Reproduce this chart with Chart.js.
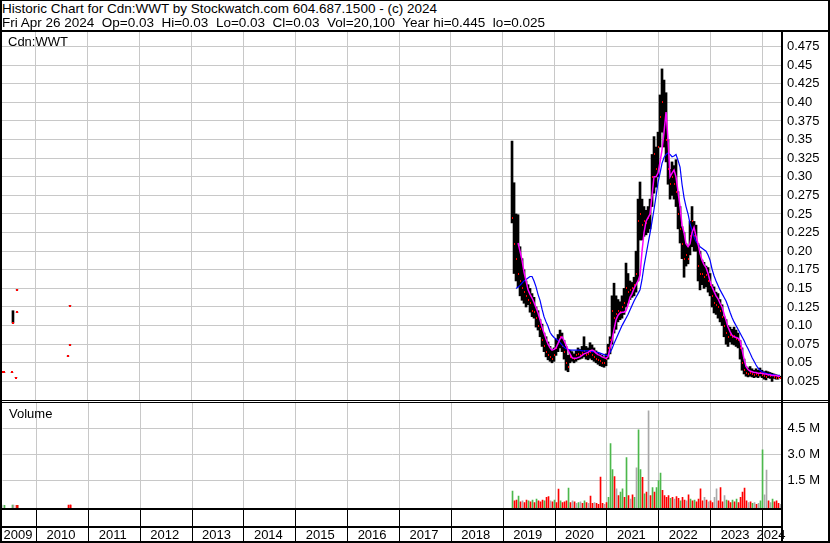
<!DOCTYPE html>
<html>
<head>
<meta charset="utf-8">
<script src="https://cdn.jsdelivr.net/npm/chart.js@4.4.1/dist/chart.umd.min.js"></script>
<style>
  body { margin: 0; background: #fff; }
  #wrap { position: relative; width: 830px; height: 543px; background: #fff; overflow: hidden;
          font-family: "Liberation Sans", Arial, sans-serif; font-size: 13px; color: #000; }
  canvas { position: absolute; left: 0; }
  .ln { position: absolute; background: #000; }
  .txt { position: absolute; white-space: pre; line-height: 14px; }
  .head { font-size: 13.5px; }
</style>
</head>
<body>
<div id="wrap">
  <canvas id="price" width="830" height="368" style="top:32px"></canvas>
  <canvas id="vol" width="830" height="140" style="top:403px"></canvas>

  <div class="txt head" style="left:2px;top:2px">Historic Chart for Cdn:WWT by Stockwatch.com 604.687.1500 - (c) 2024</div>
  <div class="txt head" style="left:2px;top:16px">Fri Apr 26 2024  Op=0.03  Hi=0.03  Lo=0.03  Cl=0.03  Vol=20,100  Year hi=0.445  lo=0.025</div>
  <div class="txt" style="left:8px;top:35px">Cdn:WWT</div>
  <div class="txt" style="left:9px;top:407px">Volume</div>

  <!-- frame -->
  <div class="ln" style="left:0;top:0;width:830px;height:1px"></div>
  <div class="ln" style="left:0;top:0;width:2px;height:543px"></div>
  <div class="ln" style="left:828px;top:0;width:2px;height:543px"></div>
  <div class="ln" style="left:0;top:541px;width:830px;height:2px"></div>
  <div class="ln" style="left:0;top:30px;width:830px;height:2px"></div>
  <div class="ln" style="left:781px;top:32px;width:2px;height:511px"></div>
  <div class="ln" style="left:0;top:400px;width:830px;height:1px"></div>
  <div class="ln" style="left:0;top:402px;width:830px;height:1px"></div>
  <div class="ln" style="left:0;top:508px;width:782px;height:2px"></div>
  <div class="ln" style="left:0;top:526px;width:782px;height:2px"></div>
</div>

<script>
// dates as decimal years (a few odd trades in 2009-2010, then 2-week steps from 2019)
const dates = [
  2009.344, 2009.383, 2009.537, 2009.556, 2009.614, 2009.634, 2009.635, 2010.617, 2010.655, 2010.656,
  2019.179, 2019.218, 2019.256, 2019.295, 2019.333, 2019.372, 2019.410, 2019.449, 2019.488, 2019.526,
  2019.565, 2019.603, 2019.642, 2019.680, 2019.719, 2019.758, 2019.796, 2019.835, 2019.873, 2019.912,
  2019.950, 2019.989, 2020.027, 2020.066, 2020.105, 2020.143, 2020.182, 2020.220, 2020.259, 2020.297,
  2020.336, 2020.375, 2020.413, 2020.452, 2020.490, 2020.529, 2020.567, 2020.606, 2020.645, 2020.683,
  2020.722, 2020.760, 2020.799, 2020.837, 2020.876, 2020.915, 2020.953, 2020.992, 2021.030, 2021.069,
  2021.107, 2021.146, 2021.185, 2021.223, 2021.262, 2021.300, 2021.339, 2021.377, 2021.416, 2021.454,
  2021.493, 2021.532, 2021.570, 2021.609, 2021.647, 2021.686, 2021.724, 2021.763, 2021.802, 2021.840,
  2021.879, 2021.917, 2021.956, 2021.994, 2022.033, 2022.071, 2022.110, 2022.149, 2022.187, 2022.226,
  2022.264, 2022.303, 2022.341, 2022.380, 2022.419, 2022.457, 2022.496, 2022.534, 2022.573, 2022.611,
  2022.650, 2022.689, 2022.727, 2022.766, 2022.804, 2022.843, 2022.881, 2022.920, 2022.959, 2022.997,
  2023.036, 2023.074, 2023.113, 2023.151, 2023.190, 2023.229, 2023.267, 2023.306, 2023.344, 2023.383,
  2023.421, 2023.460, 2023.499, 2023.537, 2023.576, 2023.614, 2023.653, 2023.691, 2023.730, 2023.769,
  2023.807, 2023.846, 2023.884, 2023.923, 2023.961, 2024.000, 2024.039, 2024.077, 2024.116, 2024.154,
  2024.193, 2024.231, 2024.270, 2024.308, 2024.347
];
const highs = [
  0.037, 0.037, 0.037, 0.12, 0.03, 0.148, 0.118, 0.059, 0.127, 0.074,
  0.348, 0.292, 0.25, 0.249, 0.206, 0.19, 0.175, 0.16, 0.155, 0.15,
  0.143, 0.138, 0.125, 0.12, 0.108, 0.102, 0.09, 0.085, 0.078, 0.072,
  0.068, 0.07, 0.082, 0.088, 0.094, 0.09, 0.08, 0.072, 0.06, 0.067,
  0.065, 0.062, 0.066, 0.07, 0.068, 0.072, 0.085, 0.072, 0.07, 0.077,
  0.074, 0.07, 0.066, 0.063, 0.062, 0.06, 0.058, 0.062, 0.075, 0.085,
  0.14, 0.157, 0.14, 0.135, 0.132, 0.14, 0.15, 0.184, 0.17, 0.16,
  0.158, 0.165, 0.2, 0.27, 0.293, 0.27, 0.26, 0.255, 0.26, 0.27,
  0.33, 0.354, 0.34, 0.36, 0.41, 0.445, 0.43, 0.413, 0.35, 0.31,
  0.32, 0.315, 0.323, 0.28, 0.26, 0.233, 0.225, 0.21, 0.206, 0.24,
  0.26, 0.24, 0.235, 0.21, 0.2, 0.188, 0.185, 0.18, 0.178, 0.17,
  0.155, 0.152, 0.145, 0.143, 0.135, 0.128, 0.112, 0.108, 0.1, 0.098,
  0.095, 0.098, 0.094, 0.09, 0.08, 0.07, 0.055, 0.045, 0.043, 0.045,
  0.042, 0.04, 0.042, 0.04, 0.043, 0.04, 0.038, 0.039, 0.038, 0.037,
  0.036, 0.035, 0.034, 0.032, 0.032
];
const lows = [
  0.037, 0.037, 0.037, 0.1035, 0.03, 0.148, 0.118, 0.059, 0.127, 0.074,
  0.238, 0.17, 0.16, 0.152, 0.14, 0.134, 0.13, 0.125, 0.128, 0.118,
  0.112, 0.11, 0.098, 0.094, 0.085, 0.072, 0.065, 0.058, 0.054, 0.052,
  0.05, 0.052, 0.06, 0.065, 0.07, 0.065, 0.055, 0.04, 0.038, 0.05,
  0.052, 0.05, 0.052, 0.054, 0.055, 0.056, 0.058, 0.055, 0.054, 0.056,
  0.054, 0.052, 0.05, 0.048, 0.046, 0.045, 0.044, 0.046, 0.055, 0.062,
  0.075, 0.09, 0.095, 0.105, 0.108, 0.11, 0.115, 0.125, 0.13, 0.135,
  0.138, 0.14, 0.145, 0.16, 0.215, 0.215, 0.22, 0.222, 0.225, 0.23,
  0.26, 0.278, 0.286, 0.3, 0.34, 0.36, 0.34, 0.32, 0.29, 0.27,
  0.275, 0.27, 0.26, 0.23, 0.211, 0.19, 0.165, 0.18, 0.183, 0.195,
  0.206, 0.2, 0.2, 0.16, 0.148, 0.155, 0.15, 0.152, 0.145, 0.14,
  0.125, 0.117, 0.115, 0.11, 0.105, 0.1, 0.085, 0.075, 0.072, 0.078,
  0.075, 0.074, 0.072, 0.07, 0.055, 0.04, 0.035, 0.032, 0.031, 0.032,
  0.031, 0.03, 0.031, 0.03, 0.032, 0.03, 0.028, 0.027, 0.03, 0.029,
  0.025, 0.029, 0.028, 0.028, 0.03
];
const closes = [
  0.037, 0.037, 0.037, 0.1035, 0.03, 0.148, 0.118, 0.059, 0.127, 0.074,
  0.245, 0.21, 0.19, 0.17, 0.16, 0.15, 0.145, 0.14, 0.135, 0.13,
  0.12, 0.118, 0.11, 0.1, 0.095, 0.08, 0.072, 0.065, 0.06, 0.058,
  0.055, 0.06, 0.07, 0.078, 0.085, 0.072, 0.065, 0.05, 0.045, 0.058,
  0.056, 0.055, 0.06, 0.062, 0.06, 0.063, 0.066, 0.06, 0.062, 0.065,
  0.06, 0.058, 0.055, 0.054, 0.052, 0.05, 0.05, 0.055, 0.07, 0.08,
  0.12, 0.11, 0.115, 0.12, 0.118, 0.125, 0.13, 0.15, 0.145, 0.148,
  0.15, 0.155, 0.17, 0.24, 0.25, 0.235, 0.24, 0.238, 0.245, 0.25,
  0.3, 0.33, 0.31, 0.34, 0.38, 0.4, 0.37, 0.35, 0.31, 0.29,
  0.3, 0.29, 0.28, 0.25, 0.23, 0.21, 0.19, 0.195, 0.19, 0.22,
  0.24, 0.22, 0.215, 0.18, 0.17, 0.17, 0.165, 0.168, 0.16, 0.155,
  0.14, 0.13, 0.128, 0.125, 0.12, 0.112, 0.1, 0.09, 0.085, 0.088,
  0.085, 0.086, 0.082, 0.08, 0.07, 0.05, 0.04, 0.036, 0.035, 0.036,
  0.035, 0.034, 0.035, 0.034, 0.036, 0.034, 0.032, 0.031, 0.033, 0.032,
  0.033, 0.031, 0.03, 0.03, 0.03
];
// short (magenta) and long (blue) moving averages
const maShort = [
  null, null, null, null, null, null, null, null, null, null,
  null, null, null, 0.211, 0.2, 0.188, 0.172, 0.16, 0.148, 0.142,
  0.137, 0.131, 0.124, 0.117, 0.108, 0.098, 0.09, 0.082, 0.075, 0.07,
  0.067, 0.068, 0.07, 0.076, 0.082, 0.085, 0.08, 0.074, 0.067, 0.062,
  0.057, 0.056, 0.056, 0.057, 0.058, 0.06, 0.062, 0.063, 0.064, 0.066,
  0.067, 0.066, 0.063, 0.061, 0.06, 0.058, 0.057, 0.056, 0.058, 0.07,
  0.08, 0.095, 0.108, 0.114, 0.117, 0.118, 0.118, 0.12, 0.128, 0.138,
  0.143, 0.15, 0.155, 0.16, 0.168, 0.2, 0.225, 0.24, 0.245, 0.25,
  0.275, 0.3, 0.3, 0.305, 0.32, 0.336, 0.36, 0.387, 0.35, 0.3,
  0.305, 0.309, 0.3, 0.28, 0.26, 0.235, 0.225, 0.21, 0.206, 0.21,
  0.225, 0.232, 0.22, 0.21, 0.197, 0.188, 0.182, 0.178, 0.17, 0.16,
  0.152, 0.146, 0.14, 0.136, 0.13, 0.125, 0.116, 0.107, 0.098, 0.092,
  0.087, 0.085, 0.084, 0.083, 0.08, 0.068, 0.055, 0.045, 0.041, 0.039,
  0.038, 0.037, 0.037, 0.036, 0.036, 0.036, 0.035, 0.035, 0.034, 0.034,
  0.033, 0.033, 0.033, 0.032, 0.032
];
const maLong = [
  null, null, null, null, null, null, null, null, null, null,
  null, null, 0.15, 0.152, 0.154, 0.157, 0.16, 0.162, 0.164, 0.166,
  0.166, 0.16, 0.152, 0.142, 0.134, 0.122, 0.112, 0.105, 0.099, 0.091,
  0.087, 0.084, 0.082, 0.08, 0.077, 0.074, 0.071, 0.069, 0.068, 0.067,
  0.067, 0.067, 0.067, 0.067, 0.067, 0.066, 0.066, 0.066, 0.066, 0.066,
  0.065, 0.065, 0.064, 0.064, 0.063, 0.062, 0.061, 0.06, 0.06, 0.064,
  0.069, 0.076, 0.082, 0.088, 0.094, 0.1, 0.105, 0.11, 0.115, 0.121,
  0.127, 0.133, 0.138, 0.143, 0.148, 0.162, 0.18, 0.195, 0.21, 0.224,
  0.24, 0.256, 0.274, 0.292, 0.305, 0.318, 0.326, 0.33, 0.332, 0.33,
  0.327, 0.328, 0.33, 0.322, 0.313, 0.29, 0.272, 0.26, 0.25, 0.237,
  0.228, 0.219, 0.213, 0.209, 0.206, 0.204, 0.202, 0.2, 0.195, 0.188,
  0.176, 0.167, 0.16, 0.154, 0.148, 0.143, 0.138, 0.133, 0.126, 0.118,
  0.111, 0.105, 0.1, 0.095, 0.09, 0.085, 0.08, 0.074, 0.069, 0.063,
  0.057, 0.052, 0.047, 0.043, 0.04, 0.038, 0.037, 0.036, 0.035, 0.035,
  0.034, 0.034, 0.033, 0.033, 0.033
];
// volume in millions of shares, and day direction: u = up, d = down, n = unchanged
const volumeM = [
  0.06, 0.04, 0.05, 0.05, 0.04, 0.04, 0.04, 0.06, 0.06, 0.05,
  0.87, 0.3, 0.35, 0.58, 0.25, 0.3, 0.2, 0.35, 0.3, 0.25,
  0.35, 0.2, 0.4, 0.3, 0.25, 0.35, 0.3, 0.5, 0.55, 0.3,
  0.25, 0.35, 0.2, 0.98, 0.3, 0.2, 0.25, 0.3, 1.04, 0.2,
  0.3, 0.25, 0.15, 0.2, 0.25, 0.15, 0.3, 0.2, 0.15, 0.58,
  0.15, 0.2, 0.15, 0.1, 1.67, 0.15, 0.1, 0.2, 0.5, 3.6,
  2.1, 1.7, 1.0, 0.6, 0.8, 1.0, 0.5, 2.8, 0.6, 0.4,
  0.65, 0.5, 2.2, 4.4, 2.1, 1.65, 0.7, 0.8, 5.5, 0.6,
  1.07, 0.8, 1.07, 1.47, 1.9, 0.9, 0.6, 0.5, 0.6, 0.45,
  0.5, 0.4, 0.55, 0.45, 0.3, 0.5, 0.35, 0.3, 0.65, 0.4,
  0.3, 0.35, 0.25, 0.4, 1.0, 0.3, 0.5, 0.35, 0.25, 0.3,
  0.2, 0.5, 1.0, 0.3, 1.07, 0.25, 0.6, 0.35, 0.3, 0.2,
  0.35, 0.25, 0.4, 0.2, 0.5, 0.8, 1.04, 0.3, 0.2, 0.25,
  0.15, 0.2, 0.1, 0.15, 0.3, 3.25, 0.65, 2.07, 0.3, 0.2,
  0.4, 0.25, 0.3, 0.15, 0.1
];
const volDir = [
  'n','u','u','n','d','u','d','d','d','d',
  'u','d','d','u','d','n','d','d','u','d',
  'u','d','u','d','d','d','u','d','d','n',
  'd','u','d','d','u','d','d','d','u','d',
  'n','d','n','u','n','d','u','d','n','d',
  'd','n','d','d','d','d','n','d','u','u',
  'u','d','n','d','u','u','d','u','d','n',
  'd','u','n','u','u','d','u','d','n','d',
  'u','d','u','u','u','d','d','d','d','u',
  'd','n','d','d','u','d','d','n','d','u',
  'd','u','d','d','d','d','n','d','n','d',
  'd','n','n','d','d','d','n','u','d','d',
  'u','d','u','d','d','d','d','d','n','d',
  'u','n','d','n','u','u','n','n','d','n',
  'u','d','d','d','n'
];

const gridYears = [2010, 2011, 2012, 2013, 2014, 2015, 2016, 2017, 2018, 2019, 2020, 2021, 2022, 2023, 2024];
const stripYears = [2009, 2010, 2011, 2012, 2013, 2014, 2015, 2016, 2017, 2018, 2019, 2020, 2021, 2022, 2023, 2024];
const priceTickLabels = ['0.025', '0.05', '0.075', '0.10', '0.125', '0.15', '0.175', '0.20', '0.225', '0.25',
  '0.275', '0.30', '0.325', '0.35', '0.375', '0.40', '0.425', '0.45', '0.475'];
const volTickLabels = ['1.5 M', '3.0 M', '4.5 M'];

const xMin = 2009.3444, xMax = 2024.3849;
const dirColors = { u: '#4cb84c', d: '#ff0000', n: '#a9a9a9' };
const gridGrey = '#c8c8c8';
const fontFam = '"Liberation Sans", Arial, sans-serif';

// close markers: a 2x2 red square for lone trades, a 1px red tick on the bar otherwise
function markImage(x0, w) {
  const c = document.createElement('canvas');
  c.width = 4; c.height = 2;
  const g = c.getContext('2d');
  g.fillStyle = '#ff0000';
  g.fillRect(x0, 0, w, 2);
  return c;
}
const loneMark = markImage(1, 2);
const tickMark = markImage(2, 1);

const crispImages = {
  id: 'crispImages',
  beforeDatasetsDraw(chart) { chart.ctx.imageSmoothingEnabled = false; }
};

function xAxis() {
  return {
    type: 'linear', min: xMin, max: xMax, offset: false,
    grid: { color: gridGrey, drawTicks: false, offset: false },
    border: { display: false },
    ticks: { display: false },
    afterBuildTicks: s => { s.ticks = gridYears.map(v => ({ value: v })); },
    afterFit: s => { s.height = 0; s.paddingLeft = 0; s.paddingRight = 0; }
  };
}

new Chart(document.getElementById('price'), {
  type: 'bar',
  data: {
    datasets: [
      { type: 'line', data: dates.map((d, i) => ({ x: d, y: maShort[i] })), borderColor: '#ff00ff',
        borderWidth: 1.5, pointRadius: 0, order: 0 },
      { type: 'line', data: dates.map((d, i) => ({ x: d, y: maLong[i] })), borderColor: '#0000ff',
        borderWidth: 1.2, pointRadius: 0, order: 1 },
      { type: 'scatter', data: dates.map((d, i) => ({ x: d, y: closes[i] })),
        pointStyle: c => (highs[c.dataIndex] - lows[c.dataIndex] < 0.02 && dates[c.dataIndex] < 2015) ? loneMark : tickMark,
        pointRadius: 1, order: 2 },
      { type: 'bar', data: dates.map((d, i) => ({ x: d, y: [lows[i], highs[i]] })), backgroundColor: '#000',
        barThickness: 2, grouped: false, borderWidth: 0, order: 3 }
    ]
  },
  options: {
    responsive: false, animation: false, events: [],
    layout: { autoPadding: false, padding: { left: 2, right: 0, top: 0, bottom: 0 } },
    plugins: { legend: { display: false }, tooltip: { enabled: false } },
    scales: {
      x: xAxis(),
      y: {
        position: 'right', min: 0, max: 0.4946,
        grid: { color: gridGrey, drawTicks: false },
        border: { display: false },
        ticks: { padding: 5, color: '#000', autoSkip: false, font: { family: fontFam, size: 13 },
          callback: (v, i) => priceTickLabels[i] },
        afterBuildTicks: s => { s.ticks = priceTickLabels.map(l => ({ value: parseFloat(l) })); },
        afterFit: s => { s.width = 48; s.paddingTop = 0; s.paddingBottom = 0; }
      }
    }
  },
  plugins: [crispImages]
});

const dateStrip = {
  id: 'dateStrip',
  afterDraw(chart) {
    const { ctx, chartArea } = chart;
    const x = chart.scales.x;
    const px = v => x.getPixelForValue(v);
    ctx.save();
    ctx.strokeStyle = '#000';
    ctx.lineWidth = 1;
    gridYears.forEach(yr => {
      const p = Math.round(px(yr) - 0.5) + 0.5;
      ctx.beginPath();
      ctx.moveTo(p, chartArea.bottom);
      ctx.lineTo(p, chart.height - 2);
      ctx.stroke();
    });
    ctx.fillStyle = '#000';
    ctx.font = '13px ' + fontFam;
    ctx.textAlign = 'center';
    ctx.textBaseline = 'alphabetic';
    stripYears.forEach(yr => {
      const a = px(Math.max(yr, xMin)), b = px(Math.min(yr + 1, xMax));
      ctx.fillText(String(yr), (a + b) / 2 - 1.5, 136);
    });
    ctx.restore();
  }
};

// volume panel is shifted half a pixel so 1px bars land on whole pixels
new Chart(document.getElementById('vol'), {
  type: 'bar',
  data: {
    datasets: [{
      data: dates.map((d, i) => ({ x: d, y: volumeM[i] })),
      backgroundColor: volDir.map(k => dirColors[k]),
      barThickness: 1, grouped: false, borderWidth: 0, base: -0.17
    }]
  },
  options: {
    responsive: false, animation: false, events: [],
    layout: { autoPadding: false, padding: { left: 2.5, right: 0, top: 0, bottom: 34 } },
    plugins: { legend: { display: false }, tooltip: { enabled: false } },
    scales: {
      x: xAxis(),
      y: {
        position: 'right', min: -0.17, max: 5.945,
        grid: { color: gridGrey, drawTicks: false },
        border: { display: false },
        ticks: { padding: 5, color: '#000', autoSkip: false, font: { family: fontFam, size: 13 },
          callback: (v, i) => volTickLabels[i] },
        afterBuildTicks: s => { s.ticks = volTickLabels.map(l => ({ value: parseFloat(l) })); },
        afterFit: s => { s.width = 47.5; s.paddingTop = 0; s.paddingBottom = 0; }
      }
    }
  },
  plugins: [dateStrip]
});
</script>
</body>
</html>
